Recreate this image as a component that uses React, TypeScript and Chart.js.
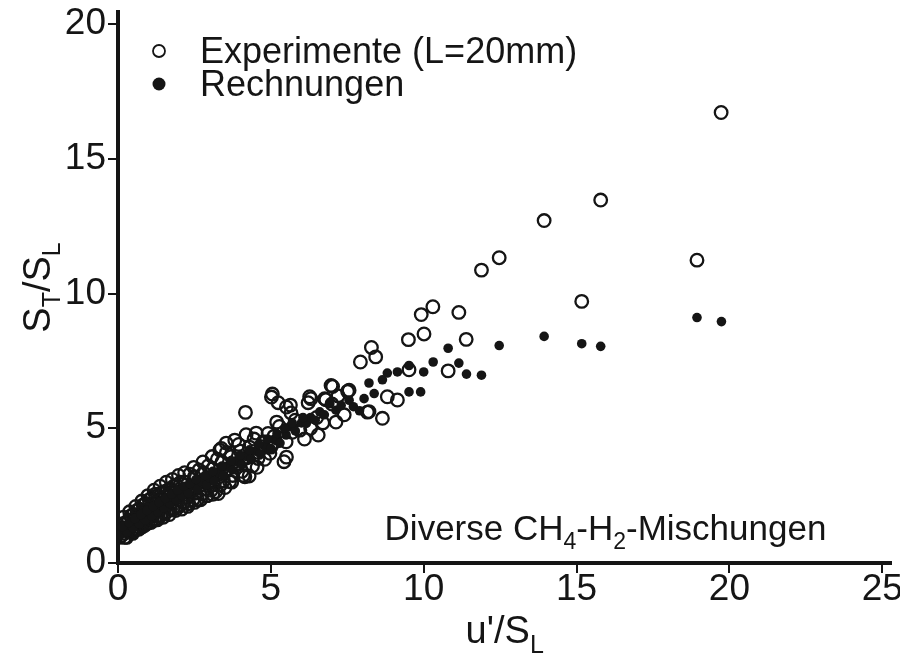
import React, { useEffect, useRef } from "react";
import { Chart, registerables } from "chart.js";

Chart.register(...registerables);

const FONT = "'Liberation Sans', Arial, Helvetica, sans-serif";
const INK = "#151515";

const xTicks = [0, 5, 10, 15, 20, 25];
const yTicks = [0, 5, 10, 15, 20];
const xMax = 25.3;
const yMax = 20.45;

type Pt = [number, number];
type Part = [string, boolean];

const expLow: Pt[] = [
  [0.1, 1.0], [0.15, 1.3], [0.2, 1.1], [0.25, 1.5], [0.3, 1.2], [0.35, 1.6], [0.4, 1.35], [0.45, 1.15],
  [0.5, 1.8], [0.55, 1.45], [0.6, 1.25], [0.65, 1.7], [0.7, 2.0], [0.75, 1.5], [0.8, 1.35], [0.85, 1.9],
  [0.9, 2.2], [0.95, 1.6], [1.0, 1.5], [1.05, 2.05], [1.1, 2.4], [1.15, 1.8], [1.2, 1.6], [1.25, 2.25],
  [1.3, 2.5], [1.35, 1.95], [1.4, 1.75], [1.45, 2.35], [1.5, 2.65], [1.55, 2.1], [1.6, 1.9], [1.65, 2.45],
  [1.7, 2.75], [1.75, 2.25], [1.8, 2.0], [1.85, 2.6], [1.9, 2.9], [1.95, 2.35], [2.0, 2.1], [2.1, 2.7],
  [2.2, 3.0], [2.25, 2.45], [2.3, 2.2], [2.4, 2.85], [2.5, 3.2], [2.55, 2.6], [2.6, 2.35], [2.7, 3.0],
  [2.8, 3.35], [2.85, 2.75], [2.9, 2.5], [3.0, 3.15], [3.1, 3.5], [3.15, 2.9], [3.2, 2.65], [3.3, 3.3],
  [3.4, 3.75], [3.45, 3.05],
  [0.05, 0.95], [0.12, 1.45], [0.22, 0.95], [0.33, 1.55], [0.42, 1.75], [0.52, 1.2], [0.62, 1.95],
  [0.72, 1.3], [0.82, 2.15], [0.92, 1.45], [1.02, 2.35], [1.12, 1.6], [1.22, 2.55], [1.32, 1.75],
  [1.42, 2.6], [1.52, 1.85], [1.62, 2.7], [1.72, 2.0], [1.82, 2.85], [1.92, 2.1], [2.05, 3.0],
  [2.15, 2.25], [2.35, 3.3], [2.45, 2.35], [2.65, 3.45], [2.77, 2.58], [2.95, 3.6], [3.05, 2.7],
  [3.28, 2.58], [3.25, 3.85], [3.35, 2.9], [3.33, 4.19],
];

const expEdge: Pt[] = [
  [0.18, 1.7], [0.38, 1.9], [0.58, 2.1], [0.78, 2.3], [0.98, 2.5], [1.18, 2.7], [1.38, 2.85], [1.58, 3.0],
  [1.78, 3.1], [1.98, 3.25], [2.18, 3.35], [2.48, 3.55], [2.78, 3.75], [3.08, 3.95], [3.38, 4.25],
  [0.28, 0.95], [0.48, 1.1], [0.68, 1.25], [0.88, 1.4], [1.08, 1.5], [1.28, 1.6], [1.48, 1.7], [1.68, 1.8],
  [1.88, 1.95], [2.08, 2.0], [2.28, 2.1], [2.5, 2.25], [2.7, 2.35], [2.92, 2.5], [3.1, 2.55],
];

const expMid: Pt[] = [
  [3.5, 2.8], [3.54, 4.45], [3.55, 4.1], [3.6, 3.5], [3.65, 3.02], [3.72, 3.0], [3.7, 3.95], [3.75, 3.25],
  [3.82, 4.56], [3.9, 3.7], [3.95, 4.4], [4.0, 4.15], [4.05, 3.4], [4.1, 3.25], [4.15, 3.2], [4.17, 5.59],
  [4.19, 4.76], [4.2, 3.9], [4.29, 3.23], [4.3, 4.3], [4.4, 3.6], [4.45, 4.6], [4.52, 4.82], [4.55, 3.55],
  [4.58, 3.88], [4.6, 4.1], [4.7, 4.32], [4.75, 4.5], [4.8, 3.85], [4.91, 4.81], [4.97, 4.07], [5.0, 4.3],
  [5.02, 6.16], [5.05, 6.27], [5.1, 4.7], [5.13, 4.49], [5.19, 5.23], [5.24, 5.95], [5.28, 5.07],
  [5.43, 3.76], [5.5, 4.5], [5.51, 5.79], [5.51, 3.93], [5.64, 5.86], [5.66, 5.57], [5.7, 4.85],
  [5.95, 4.93], [5.8, 5.3], [6.22, 5.95], [6.27, 6.17], [6.31, 6.1], [6.1, 4.6], [6.3, 5.0], [6.55, 4.75],
  [6.76, 6.1], [6.8, 6.06], [6.5, 5.4], [6.7, 5.2], [6.97, 6.59], [7.02, 6.55], [7.13, 5.23], [7.0, 5.9],
  [7.2, 6.2], [7.51, 6.37], [7.56, 6.41], [7.4, 5.5],
];

const expHigh: Pt[] = [
  [7.93, 7.46], [8.29, 8.0], [8.43, 7.65], [8.16, 5.6], [8.21, 5.62], [8.65, 5.37], [8.81, 6.17],
  [9.14, 6.05], [9.5, 8.29], [9.92, 9.22], [10.01, 8.5], [10.3, 9.51], [11.15, 9.3], [11.39, 8.3],
  [9.52, 7.17], [10.8, 7.13], [11.89, 10.87], [12.47, 11.33], [13.94, 12.71], [15.79, 13.47],
  [19.73, 16.72], [18.94, 11.24], [15.17, 9.71],
];

const calcLow: Pt[] = [
  [0.1, 1.05], [0.2, 1.25], [0.3, 1.15], [0.4, 1.4], [0.5, 1.3], [0.6, 1.55], [0.7, 1.45], [0.8, 1.7],
  [0.9, 1.6], [1.0, 1.85], [1.1, 1.75], [1.2, 2.0], [1.3, 1.9], [1.4, 2.15], [1.5, 2.05], [1.6, 2.3],
  [1.7, 2.2], [1.8, 2.45], [1.9, 2.35], [2.0, 2.6], [2.1, 2.5], [2.2, 2.75], [2.3, 2.6], [2.45, 2.85],
  [2.6, 2.75], [2.75, 3.0], [2.9, 2.9], [3.0, 3.15], [3.15, 3.05], [3.3, 3.35], [3.45, 3.25], [3.6, 3.55],
  [3.75, 3.45], [3.9, 3.75], [4.05, 3.65], [4.2, 3.95], [4.35, 3.85], [4.5, 4.15], [4.65, 4.05],
  [4.8, 4.35], [5.0, 4.25], [5.15, 4.55], [5.3, 4.45], [5.5, 4.75], [5.62, 5.06], [5.8, 4.9], [6.0, 5.2],
  [6.16, 5.18], [6.3, 5.4], [6.45, 5.3], [6.6, 5.61], [6.75, 5.5], [6.93, 5.91], [7.13, 5.67],
  [7.3, 5.85], [7.56, 6.04], [7.7, 5.8], [7.9, 5.65],
  [0.15, 1.35], [0.35, 1.5], [0.55, 1.65], [0.75, 1.8], [0.95, 1.95], [1.15, 2.1], [1.35, 2.25],
  [1.55, 2.4], [1.75, 2.55], [1.95, 2.7], [2.15, 2.85], [2.35, 2.95], [2.55, 3.1], [2.85, 3.25],
  [3.1, 3.4], [3.4, 3.6], [3.7, 3.8], [4.0, 4.0], [4.3, 4.2], [4.6, 4.4], [4.9, 4.6], [5.2, 4.8],
  [5.45, 5.0], [5.7, 5.2], [6.05, 5.4],
];

const calcHigh: Pt[] = [
  [8.05, 6.1], [8.21, 6.68], [8.38, 6.29], [8.65, 6.8], [8.81, 7.05], [9.14, 7.09], [9.52, 7.33],
  [9.52, 6.35], [9.9, 6.35], [10.0, 7.09], [10.31, 7.46], [10.8, 7.97], [11.15, 7.42], [11.4, 7.01],
  [11.89, 6.97], [12.47, 8.07], [13.94, 8.41], [15.17, 8.14], [15.79, 8.04], [18.94, 9.11], [19.74, 8.96],
];

const legendLabels = ["Experimente (L=20mm)", "Rechnungen"];
const xTitleParts: Part[] = [["u'/S", false], ["L", true]];
const yTitleParts: Part[] = [["S", false], ["T", true], ["/S", false], ["L", true]];
const noteParts: Part[] = [["Diverse CH", false], ["4", true], ["-H", false], ["2", true], ["-Mischungen", false]];

function drawParts(ctx: CanvasRenderingContext2D, parts: Part[], x: number, y: number, size: number, align: "left" | "center" | "right") {
  const subSize = Math.round(size * 0.66);
  ctx.textAlign = "left";
  ctx.textBaseline = "alphabetic";
  const widths = parts.map(([t, sub]) => {
    ctx.font = `${sub ? subSize : size}px ${FONT}`;
    return ctx.measureText(t).width;
  });
  const total = widths.reduce((a, b) => a + b, 0);
  let cx = align === "left" ? x : align === "center" ? x - total / 2 : x - total;
  parts.forEach(([t, sub], i) => {
    ctx.font = `${sub ? subSize : size}px ${FONT}`;
    ctx.fillText(t, cx, sub ? y + size * 0.26 : y);
    cx += widths[i];
  });
}

const annotations = {
  id: "annotations",
  afterDraw(chart: any) {
    const { ctx, chartArea } = chart;
    ctx.save();
    ctx.fillStyle = INK;
    ctx.strokeStyle = INK;
    const mx = chartArea.left + 41;
    const my1 = chartArea.top + 39;
    const my2 = chartArea.top + 72;
    ctx.lineWidth = 1.8;
    ctx.beginPath();
    ctx.arc(mx, my1, 6, 0, Math.PI * 2);
    ctx.stroke();
    ctx.beginPath();
    ctx.arc(mx, my2, 6.5, 0, Math.PI * 2);
    ctx.fill();
    ctx.font = `36px ${FONT}`;
    ctx.textAlign = "left";
    ctx.textBaseline = "alphabetic";
    ctx.fillText(legendLabels[0], chartArea.left + 82, chartArea.top + 51);
    ctx.fillText(legendLabels[1], chartArea.left + 82, chartArea.top + 84);
    drawParts(ctx, noteParts, chartArea.right - 65, chartArea.bottom - 23, 35, "right");
    drawParts(ctx, xTitleParts, (chartArea.left + chartArea.right) / 2, 643, 38, "center");
    ctx.translate(50, (chartArea.top + chartArea.bottom) / 2);
    ctx.rotate(-Math.PI / 2);
    drawParts(ctx, yTitleParts, 0, 0, 38, "center");
    ctx.restore();
  },
};

export default function App() {
  const ref = useRef<HTMLCanvasElement | null>(null);
  useEffect(() => {
    if (!ref.current) return;
    const toXY = (p: Pt) => ({ x: p[0], y: p[1] });
    const chart = new Chart(ref.current, {
      type: "scatter",
      data: {
        datasets: [
          {
            label: legendLabels[1],
            data: [...calcLow, ...calcHigh].map(toXY),
            pointRadius: 4.8,
            pointBackgroundColor: INK,
            pointBorderColor: INK,
            pointBorderWidth: 0,
          },
          {
            label: legendLabels[0],
            data: [...expLow, ...expEdge, ...expMid, ...expHigh].map(toXY),
            pointRadius: 6.3,
            pointBackgroundColor: "rgba(0,0,0,0)",
            pointBorderColor: INK,
            pointBorderWidth: 2.3,
          },
        ],
      },
      options: {
        responsive: false,
        animation: false,
        devicePixelRatio: 1,
        layout: { padding: { left: 0, top: 12, right: 7, bottom: 0 } },
        plugins: { legend: { display: false }, tooltip: { enabled: false } },
        scales: {
          x: {
            type: "linear",
            min: 0,
            max: xMax,
            afterBuildTicks: (s: any) => {
              s.ticks = xTicks.map((v) => ({ value: v }));
            },
            afterFit: (s: any) => {
              s.height = 94;
              s.paddingLeft = 0;
              s.paddingRight = 0;
            },
            grid: { display: true, drawOnChartArea: false, drawTicks: true, tickLength: 10, color: INK, lineWidth: 2 },
            border: { display: true, color: INK, width: 4 },
            ticks: { font: { family: FONT, size: 37 }, color: INK, padding: -5, maxRotation: 0, autoSkip: false },
          },
          y: {
            type: "linear",
            min: 0,
            max: yMax,
            afterBuildTicks: (s: any) => {
              s.ticks = yTicks.map((v) => ({ value: v }));
            },
            afterFit: (s: any) => {
              s.width = 118;
              s.paddingTop = 0;
              s.paddingBottom = 0;
            },
            grid: { display: true, drawOnChartArea: false, drawTicks: true, tickLength: 10, color: INK, lineWidth: 2 },
            border: { display: true, color: INK, width: 4 },
            ticks: { font: { family: FONT, size: 37 }, color: INK, padding: 2, autoSkip: false },
          },
        },
      },
      plugins: [annotations],
    });
    return () => chart.destroy();
  }, []);
  return (
    <div style={{ position: "absolute", left: 0, top: 0, width: 900, height: 657, background: "#fff" }}>
      <canvas ref={ref} width={900} height={657} style={{ display: "block" }} />
    </div>
  );
}
